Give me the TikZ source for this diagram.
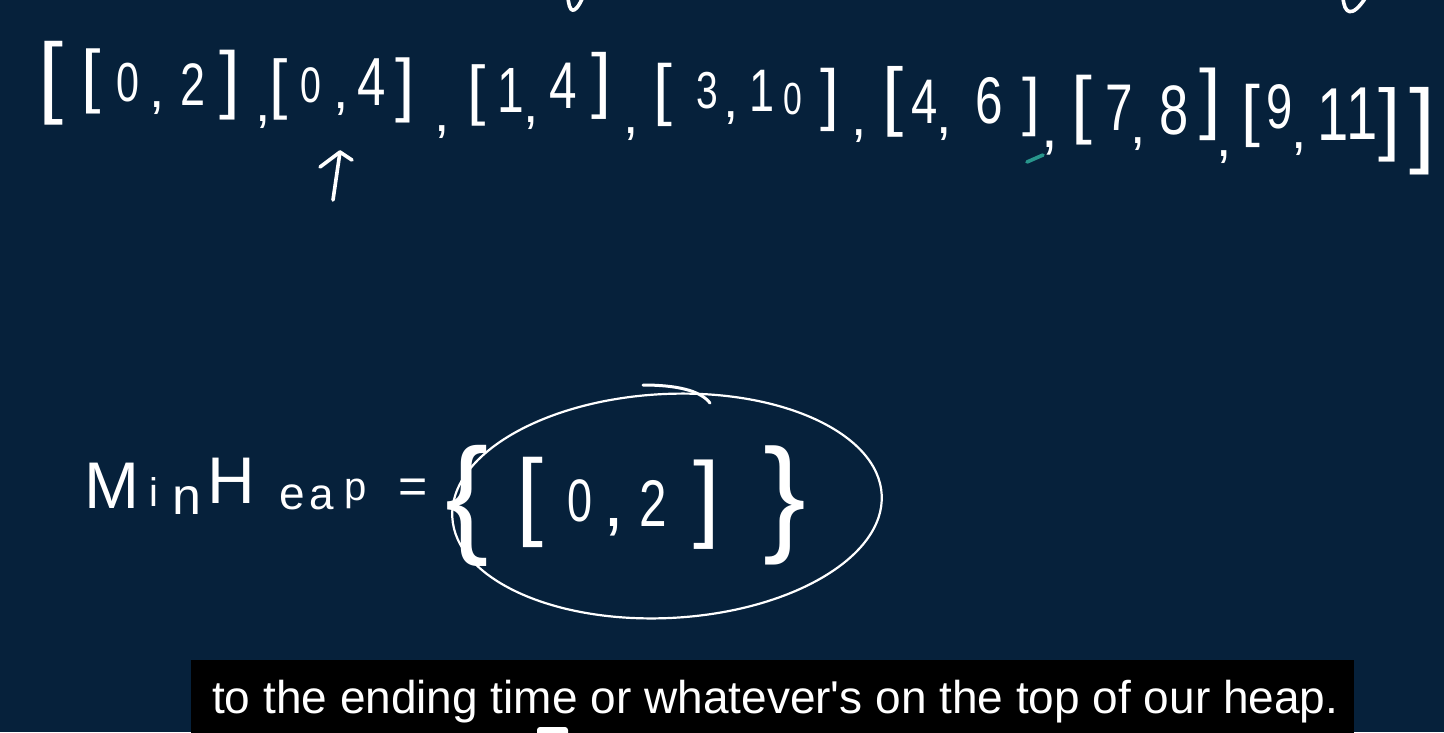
\documentclass[tikz,border=0pt]{standalone}
\usepackage{graphicx}
\usepackage{fontspec}
\setmainfont{Liberation Sans}
\definecolor{bg}{RGB}{6,33,59}
\definecolor{tealink}{RGB}{40,150,140}
% bracket / comma / letter
\newcommand\hwc[5]{\node[hw,font=\fontsize{#4}{#4}\selectfont] (#1) at (#2,#3) {#5};}
% narrow handwritten digit
\newcommand\hwd[5]{\node[hw,font=\fontsize{#4}{#4}\selectfont] (#1) at (#2,#3) {\scalebox{0.75}[1]{#5}};}
\begin{document}
\begin{tikzpicture}[x=1pt,y=-1pt,
  hw/.style={text=white,inner sep=0pt,anchor=center},
  ink/.style={draw=white,line width=3.6pt,line cap=round,line join=round}]
\fill[bg] (0,0) rectangle (1444,732);
\useasboundingbox (0,0) rectangle (1444,732);
% partial strokes at the top edge
\draw[ink] (568,-3) .. controls (569,12) and (574,17) .. (583,-3);
\draw[ink] (1343,-3) .. controls (1344,14) and (1352,19) .. (1366,-3);
% top array
\hwc{o1}{51}{83}{90}{[}
\hwc{a1}{91}{81}{70}{[}
\hwd{a2}{128}{83}{55}{0}
\hwc{a3}{157}{108}{55}{,}
\hwd{a4}{193}{85}{60}{2}
\hwc{a5}{230}{85}{75}{]}
\hwc{s1}{263}{122}{55}{,}
\hwc{b1}{279}{89}{66}{[}
\hwd{b2}{311}{85}{50}{0}
\hwc{b3}{341}{109}{55}{,}
\hwd{b4}{372}{82}{68}{4}
\hwc{b5}{405}{90}{70}{]}
\hwc{s2}{442}{132}{55}{,}
\hwc{c1}{477}{95}{66}{[}
\hwd{c2}{511}{90}{64}{1}
\hwc{c3}{531}{123}{55}{,}
\hwd{c4}{563}{86}{66}{4}
\hwc{c5}{601}{86}{72}{]}
\hwc{s3}{631}{134}{55}{,}
\hwc{d1}{663}{95}{68}{[}
\hwd{d2}{707}{91}{52}{3}
\hwc{d3}{731}{118}{55}{,}
\hwd{d4}{762}{91}{60}{1}
\hwd{d5}{793}{99}{45}{0}
\hwc{d6}{830}{100}{68}{]}
\hwc{s4}{859}{136}{55}{,}
\hwc{e1}{893}{102}{76}{[}
\hwd{e2}{925}{102}{63}{4}
\hwc{e3}{944}{134}{55}{,}
\hwd{e4}{989}{101}{66}{6}
\hwc{e5}{1031}{107}{64}{]}
\draw[draw=tealink,line width=3.6pt,line cap=round] (1027,162) -- (1043,155);
\hwc{s5}{1050}{148}{60}{,}
\hwc{f1}{1082}{110}{75}{[}
\hwd{f2}{1119}{108}{66}{7}
\hwc{f3}{1138}{144}{55}{,}
\hwd{f4}{1174}{110}{70}{8}
\hwc{f5}{1210}{104}{78}{]}
\hwc{s6}{1224}{157}{55}{,}
\hwc{g1}{1251}{116}{68}{[}
\hwd{g2}{1280}{107}{63}{9}
\hwc{g3}{1299}{149}{55}{,}
\hwd{g4}{1333}{115}{75}{1}
\hwd{g5}{1362}{114}{75}{1}
\hwc{g6}{1390}{125}{80}{]}
\hwc{o2}{1423}{131}{94}{]}
% arrow under [0,4]
\coordinate (arB) at (333,200);
\coordinate (arT) at (340,152);
\coordinate (arL) at (320,167);
\coordinate (arR) at (352,160);
\draw[ink] (arB) -- (arT);
\draw[ink] (arL) -- (arT) -- (arR);
% MinHeap row
\hwc{m1}{112}{486}{66}{M}
\hwc{m2}{154}{492}{40}{i}
\hwc{m3}{187}{500}{52}{n}
\hwc{m4}{231}{481}{66}{H}
\hwc{m5}{292}{497}{46}{e}
\hwc{m6}{322}{498}{44}{a}
\hwc{m7}{356}{494}{40}{p}
\hwc{m8}{413}{491}{50}{=}
\hwc{h1}{467}{506}{130}{\{}
\hwc{h2}{530}{502}{97}{[}
\hwd{h3}{580}{501}{60}{0}
\hwc{h4}{614}{527}{75}{,}
\hwd{h5}{653}{503}{66}{2}
\hwc{h6}{707}{505}{96}{]}
\hwc{h7}{785}{505}{128}{\}}
\draw[white,line width=2.2pt] (667,506) ellipse [x radius=215, y radius=112, rotate=3];
\draw[ink,line width=3pt] (643,385) .. controls (675,385) and (700,390) .. (710,403);
% subtitle
\fill[black] (191,660) rectangle (1354,733);
\node[text=white,inner sep=0pt,anchor=base west,font=\fontsize{46}{46}\selectfont] (sub) at (212,713) {to the ending time or whatever\textquotesingle s on the top of our heap.};
\fill[white,rounded corners=3pt] (537,727) rectangle (568,745);
\end{tikzpicture}
\end{document}
